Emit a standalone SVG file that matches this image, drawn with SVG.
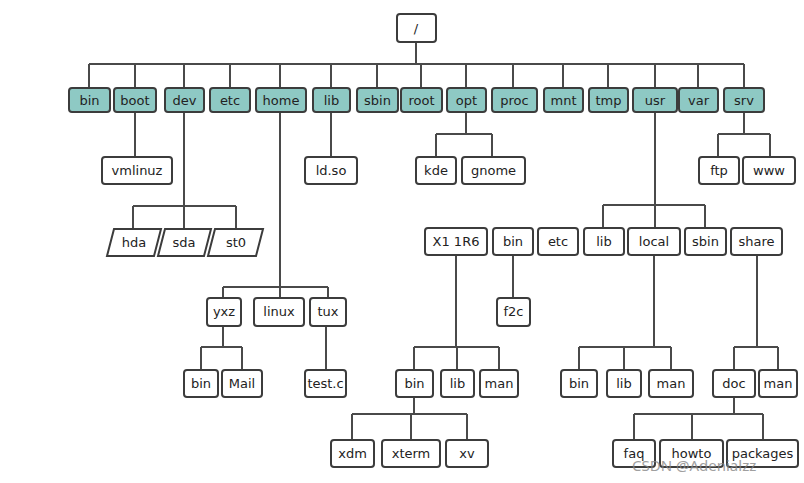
<svg xmlns="http://www.w3.org/2000/svg" width="804" height="483" viewBox="0 0 804 483">
<style>
rect,polygon{stroke:#3c3c3c;stroke-width:2;fill:#fff}
rect{rx:3}
.t rect{fill:#8ec9c4}
text{font-family:"DejaVu Sans",sans-serif;font-size:13px;fill:#222;text-anchor:middle}
.c path{stroke:#4a4a4a;stroke-width:2;fill:none}
.wm{font-family:"Noto Sans",sans-serif;font-size:15px;fill:#888;text-anchor:start;opacity:0.8}
</style>
<rect x="0" y="0" width="804" height="483" style="fill:#fff;stroke:none"/>
<g class="c">
<path d="M416 42V64M89 64H744M89 64V88M135 64V88M184 64V88M230 64V88M280 64V88M331 64V88M377 64V88M421 64V88M466 64V88M513 64V88M563 64V88M608 64V88M655 64V88M698 64V88M744 64V88"/>
<path d="M135 112V157M331 112V157M466 112V134M436 134H492M436 134V157M492 134V157M744 112V134M718 134H770M718 134V157M770 134V157"/>
<path d="M184 112V229M133 206H236M133 206V229M236 206V229"/>
<path d="M280 112V298M223 287H328M223 287V298M328 287V298"/>
<path d="M223 326V347M201 347H242M201 347V370M242 347V370M326 326V370"/>
<path d="M655 112V228M603 205H705M603 205V228M705 205V228"/>
<path d="M513 254V298M456 254V347M414 347H499M414 347V370M457 347V370M499 347V370"/>
<path d="M414 397V414M352 414H467M352 414V440M411 414V440M467 414V440"/>
<path d="M654 254V347M579 347H671M579 347V370M624 347V370M671 347V370"/>
<path d="M757 254V347M734 347H778M734 347V370M778 347V370M734 397V414M634 414H763M634 414V440M692 414V440M763 414V440"/>
</g>
<g id="root"><rect x="397" y="14" width="39" height="28"/><text x="416" y="33">/</text></g>
<g class="t">
<g id="bin"><rect x="69" y="88" width="41" height="24"/><text x="89.5" y="105">bin</text></g>
<g id="boot"><rect x="114" y="88" width="42" height="24"/><text x="135" y="105">boot</text></g>
<g id="dev"><rect x="165" y="88" width="39" height="24"/><text x="184.5" y="105">dev</text></g>
<g id="etc"><rect x="210" y="88" width="40" height="24"/><text x="230" y="105">etc</text></g>
<g id="home"><rect x="256" y="88" width="50" height="24"/><text x="281" y="105">home</text></g>
<g id="lib"><rect x="313" y="88" width="37" height="24"/><text x="331.5" y="105">lib</text></g>
<g id="sbin"><rect x="357" y="88" width="41" height="24"/><text x="377.5" y="105">sbin</text></g>
<g id="rootdir"><rect x="401" y="88" width="41" height="24"/><text x="421.5" y="105">root</text></g>
<g id="opt"><rect x="447" y="88" width="39" height="24"/><text x="466.5" y="105">opt</text></g>
<g id="proc"><rect x="492" y="88" width="45" height="24"/><text x="514.5" y="105">proc</text></g>
<g id="mnt"><rect x="544" y="88" width="39" height="24"/><text x="563.5" y="105">mnt</text></g>
<g id="tmp"><rect x="589" y="88" width="39" height="24"/><text x="608.5" y="105">tmp</text></g>
<g id="usr"><rect x="633" y="88" width="44" height="24"/><text x="655" y="105">usr</text></g>
<g id="var"><rect x="679" y="88" width="39" height="24"/><text x="698.5" y="105">var</text></g>
<g id="srv"><rect x="724" y="88" width="40" height="24"/><text x="744" y="105">srv</text></g>
</g>
<g id="vmlinuz"><rect x="102" y="157" width="70" height="27"/><text x="137" y="175">vmlinuz</text></g>
<g id="ldso"><rect x="305" y="157" width="52" height="27"/><text x="331" y="175">ld.so</text></g>
<g id="kde"><rect x="416" y="157" width="40" height="27"/><text x="436" y="175">kde</text></g>
<g id="gnome"><rect x="462" y="157" width="63" height="27"/><text x="493.5" y="175">gnome</text></g>
<g id="ftp"><rect x="699" y="157" width="40" height="27"/><text x="719" y="175">ftp</text></g>
<g id="www"><rect x="743" y="157" width="52" height="27"/><text x="769" y="175">www</text></g>
<g id="hda"><polygon points="114,229 161,229 154,256 107,256"/><text x="134" y="247">hda</text></g>
<g id="sda"><polygon points="165,229 211,229 204,256 158,256"/><text x="184" y="247">sda</text></g>
<g id="st0"><polygon points="215,229 263,229 256,256 208,256"/><text x="236" y="247">st0</text></g>
<g id="X11R6"><rect x="425" y="228" width="62" height="27"/><text x="456" y="246">X1 1R6</text></g>
<g id="usrbin"><rect x="493" y="228" width="40" height="27"/><text x="513" y="246">bin</text></g>
<g id="usretc"><rect x="538" y="228" width="40" height="27"/><text x="558" y="246">etc</text></g>
<g id="usrlib"><rect x="584" y="228" width="40" height="27"/><text x="604" y="246">lib</text></g>
<g id="local"><rect x="628" y="228" width="52" height="27"/><text x="654" y="246">local</text></g>
<g id="usrsbin"><rect x="685" y="228" width="41" height="27"/><text x="705.5" y="246">sbin</text></g>
<g id="share"><rect x="731" y="228" width="51" height="27"/><text x="756.5" y="246">share</text></g>
<g id="yxz"><rect x="207" y="298" width="34" height="28"/><text x="224" y="316">yxz</text></g>
<g id="linux"><rect x="254" y="298" width="50" height="28"/><text x="279" y="316">linux</text></g>
<g id="tux"><rect x="310" y="298" width="36" height="28"/><text x="328" y="316">tux</text></g>
<g id="f2c"><rect x="497" y="298" width="33" height="28"/><text x="513.5" y="316">f2c</text></g>
<g id="hbin"><rect x="184" y="370" width="34" height="27"/><text x="201" y="388">bin</text></g>
<g id="mail"><rect x="222" y="370" width="40" height="27"/><text x="242" y="388">Mail</text></g>
<g id="testc"><rect x="305" y="370" width="41" height="27"/><text x="325.5" y="388">test.c</text></g>
<g id="xbin"><rect x="396" y="370" width="37" height="27"/><text x="414.5" y="388">bin</text></g>
<g id="xlib"><rect x="441" y="370" width="33" height="27"/><text x="457.5" y="388">lib</text></g>
<g id="xman"><rect x="480" y="370" width="38" height="27"/><text x="499" y="388">man</text></g>
<g id="lbin"><rect x="561" y="370" width="36" height="27"/><text x="579" y="388">bin</text></g>
<g id="llib"><rect x="607" y="370" width="34" height="27"/><text x="624" y="388">lib</text></g>
<g id="lman"><rect x="649" y="370" width="44" height="27"/><text x="671" y="388">man</text></g>
<g id="doc"><rect x="713" y="370" width="42" height="27"/><text x="734" y="388">doc</text></g>
<g id="sman"><rect x="759" y="370" width="38" height="27"/><text x="778" y="388">man</text></g>
<g id="xdm"><rect x="331" y="440" width="43" height="27"/><text x="352.5" y="458">xdm</text></g>
<g id="xterm"><rect x="382" y="440" width="58" height="27"/><text x="411" y="458">xterm</text></g>
<g id="xv"><rect x="446" y="440" width="42" height="27"/><text x="467" y="458">xv</text></g>
<g id="faq"><rect x="613" y="440" width="42" height="27"/><text x="634" y="458">faq</text></g>
<g id="howto"><rect x="660" y="440" width="63" height="27"/><text x="691.5" y="458">howto</text></g>
<g id="packages"><rect x="727" y="440" width="71" height="27"/><text x="762.5" y="458">packages</text></g>
<text class="wm" x="632" y="471">CSDN @Adenialzz</text>
</svg>
